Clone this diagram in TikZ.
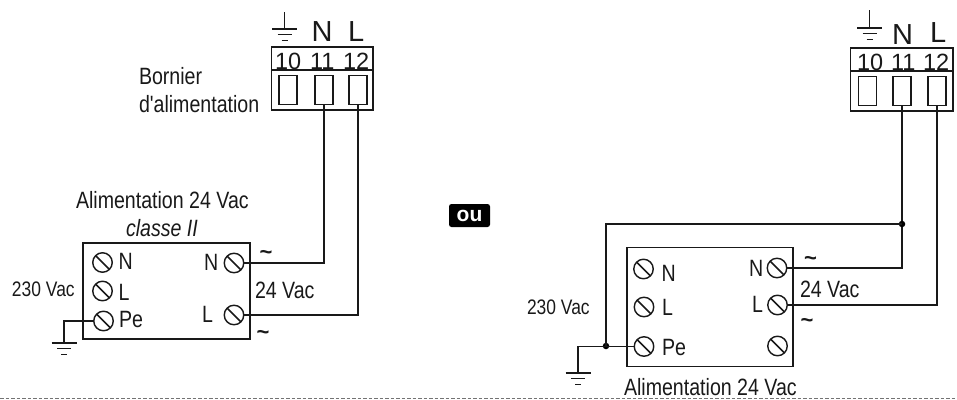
\documentclass[tikz,border=0pt]{standalone}
\usepackage{fontspec}
\setmainfont{Liberation Sans}
\newfontfamily\narrowfont[FakeStretch=0.83]{Liberation Sans}
\usetikzlibrary{calc}
\tikzset{
  x=1pt,y=-1pt,
  line/.style={line width=1.4pt,draw=black!90},
  txt/.style={anchor=base west,inner sep=0pt,outer sep=0pt,text=black!90,font=\fontsize{23.6}{26}\selectfont\narrowfont},
  smalltxt/.style={txt,font=\fontsize{21}{23}\selectfont\narrowfont},
  toplbl/.style={anchor=base west,inner sep=0pt,outer sep=0pt,text=black!90,font=\fontsize{29}{31}\selectfont},
  numlbl/.style={anchor=base west,inner sep=0pt,outer sep=0pt,text=black!90,font=\fontsize{23.5}{25}\selectfont},
  tildelbl/.style={anchor=center,inner sep=0pt,outer sep=0pt,text=black!90,font=\fontsize{22}{24}\selectfont\bfseries},
  screw/.style={circle,line,line width=1.4pt,minimum size=19.5pt,inner sep=0pt,outer sep=0pt,
    path picture={\draw[line width=1.7pt,black!90] (path picture bounding box.north west) -- (path picture bounding box.south east);}},
  slot/.style={rectangle,line,minimum width=18pt,minimum height=28.5pt,inner sep=0pt,outer sep=0pt},
  housing/.style={line},
  dot/.style={circle,fill=black,inner sep=0pt,outer sep=0pt,minimum size=6.5pt}
}
\newcommand{\earth}[2]{%
  \draw[line] (#1,#2) ++(-12.5,0) -- ++(25,0);
  \draw[line] (#1,#2) ++(-7,5.5) -- ++(14,0);
  \draw[line] (#1,#2) ++(-3,11.5) -- ++(6,0);
}
\begin{document}
\begin{tikzpicture}
\useasboundingbox (0,0) rectangle (957,399);
% bottom dashed rule
\coordinate (ruleA) at (0,398);
\coordinate (ruleB) at (957,398);
\draw[line width=0.8pt,draw=black!55,dash pattern=on 3.5pt off 2pt] (ruleA) -- (ruleB);

% ---------- left terminal block
\draw[housing] (271.5,47) rectangle (373,110);
\draw[housing] (271.5,70) -- (373,70);
\node[slot] (La) at (288,90) {};
\node[slot] (Lb) at (324,90) {};
\node[slot] (Lc) at (358,90) {};
\node[numlbl] (Ln10) at (275,69) {10};
\node[numlbl] (Ln11) at (310,69) {11};
\node[numlbl] (Ln12) at (343,69) {12};
\node[toplbl] (LtN) at (311.5,41.5) {N};
\node[toplbl] (LtL) at (348,41.5) {L};
\coordinate (LgT) at (284.5,12);
\coordinate (LgB) at (284.5,29);
\draw[line] (LgT) -- (LgB);
\earth{284.5}{29}
\node[txt] (Lb1) at (139,84) {Bornier};
\node[txt] (Lb2) at (139,112) {d'alimentation};

% ---------- left supply
\draw[housing] (83,243) rectangle (250,339);
\node[txt] (LA) at (76,208) {Alimentation 24 Vac};
\node[txt,font=\fontsize{23.6}{26}\selectfont\narrowfont\itshape] (LC) at (126,236.5) {classe II};
\node[screw] (L1) at (102.5,262.5) {};
\node[screw] (L2) at (102.5,291) {};
\node[screw] (L3) at (103.5,321) {};
\node[screw] (L4) at (234,263) {};
\node[screw] (L5) at (234,315) {};
\node[txt] (LN) at (118.5,269) {N};
\node[txt] (LL) at (118.5,300) {L};
\node[txt] (LP) at (119,327.5) {Pe};
\node[txt] (LNr) at (204,270.5) {N};
\node[txt] (LLr) at (202,322.5) {L};
\node[txt] (L24) at (255,298) {24 Vac};
\node[smalltxt] (L230) at (12,296) {230 Vac};
\node[tildelbl] (Lt1) at (266,255) {\textasciitilde};
\node[tildelbl] (Lt2) at (263,334.5) {\textasciitilde};
\draw[line] (L4.east) -| (Lb.south);
\draw[line] (L5.east) -| (Lc.south);
\coordinate (Lg) at (64,343);
\draw[line] (L3.west) -| (Lg);
\earth{64}{343}

% ---------- ou
\node[rectangle,rounded corners=2.5pt,fill=black,text=white,inner sep=0pt,minimum width=41pt,minimum height=23pt,font=\fontsize{21}{23}\selectfont\bfseries] (ou) at (469.5,215.5) {ou};

% ---------- right terminal block
\draw[housing] (850.7,48) rectangle (953,111);
\draw[housing] (850.7,71) -- (953,71);
\node[slot] (Ra) at (867.5,91) {};
\node[slot] (Rb) at (902,91) {};
\node[slot] (Rc) at (937,91) {};
\node[numlbl] (Rn10) at (857,70) {10};
\node[numlbl] (Rn11) at (891,70) {11};
\node[numlbl] (Rn12) at (923,70) {12};
\node[toplbl] (RtN) at (892,44) {N};
\node[toplbl] (RtL) at (930,42.5) {L};
\coordinate (RgT) at (869.5,10);
\coordinate (RgB) at (869.5,28);
\draw[line] (RgT) -- (RgB);
\earth{869.5}{28}

% ---------- right supply
\draw[housing] (627,247.5) rectangle (793,366.5);
\node[txt] (RA) at (624,395.5) {Alimentation 24 Vac};
\node[screw] (R1) at (643.5,269) {};
\node[screw] (R2) at (644,307) {};
\node[screw] (R3) at (644,346.5) {};
\node[screw] (R4) at (777,268) {};
\node[screw] (R5) at (777.5,305) {};
\node[screw] (R6) at (777.5,346) {};
\node[txt] (RN) at (661.5,281.5) {N};
\node[txt] (RL) at (662,315) {L};
\node[txt] (RP) at (662,355.5) {Pe};
\node[txt] (RNr) at (749,276.5) {N};
\node[txt] (RLr) at (752,312) {L};
\node[txt] (R24) at (800,297.5) {24 Vac};
\node[smalltxt] (R230) at (527,314) {230 Vac};
\node[tildelbl] (Rt1) at (810.5,261) {\textasciitilde};
\node[tildelbl] (Rt2) at (807,323) {\textasciitilde};
\draw[line] (R4.east) -| (Rb.south);
\draw[line] (R5.east) -| (Rc.south);
\node[dot] (Rd1) at (902,224) {};
\node[dot] (Rd2) at (606,346) {};
\draw[line] (Rd1.center) -| (Rd2.center);
\coordinate (Rg) at (578,373);
\draw[line] (R3.west) -| (Rg);
\earth{578}{373}
\end{tikzpicture}
\end{document}
